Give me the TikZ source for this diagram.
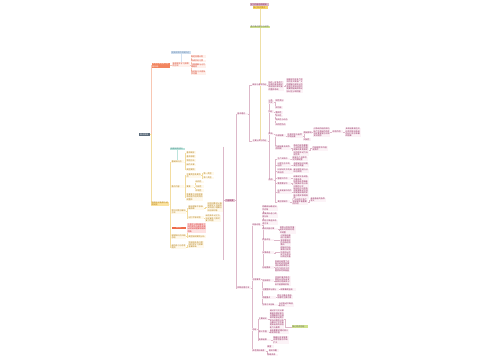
\documentclass[tikz,border=0pt]{standalone}
\usepackage{fontspec}
\newfontfamily\cjk{Noto Sans CJK SC}
\usetikzlibrary{backgrounds}
\XeTeXlinebreaklocale "zh"
\XeTeXlinebreakskip=0pt plus 0.3pt
\definecolor{rtext}{HTML}{8E2157}
\definecolor{rline}{HTML}{DDB8C9}
\definecolor{rfill}{HTML}{FCF3F7}
\definecolor{ytext}{HTML}{B07A10}
\definecolor{yline}{HTML}{F3DDA0}
\definecolor{yfill}{HTML}{FFF9EC}
\definecolor{otext}{HTML}{D2361E}
\definecolor{oline}{HTML}{F8C7B3}
\definecolor{ofill}{HTML}{FFF1EC}
\definecolor{rootc}{HTML}{5A6A7A}
\definecolor{salmon}{HTML}{F2855F}
\definecolor{ymain}{HTML}{FBE3A0}
\definecolor{bluec}{HTML}{D3E2F2}
\definecolor{bluet}{HTML}{6585A8}
\definecolor{tealc}{HTML}{BCE4DD}
\definecolor{tealt}{HTML}{3D8C82}
\definecolor{barcol}{HTML}{EE6B4B}
\definecolor{bartext}{HTML}{FDE0D8}
\definecolor{pinkbox}{HTML}{FDE1E1}
\definecolor{pinkt}{HTML}{D42222}
\definecolor{tpink}{HTML}{D9B6C7}
\definecolor{tyellow}{HTML}{F6D56A}
\definecolor{tgreen}{HTML}{CFE18C}
\definecolor{pfill}{HTML}{E7C8D6}
\definecolor{tline}{HTML}{EEDFA6}
\tikzset{
 base/.style={anchor=west, inner sep=0.35pt, align=left, font=\cjk\fontsize{2}{2.3}\selectfont},
 rn/.style={base, text=rtext, fill=rfill},
 yn/.style={base, text=ytext, fill=yfill},
 on/.style={base, text=otext, fill=ofill},
 rl/.style={draw=rline, line width=0.4pt},
 yl/.style={draw=yline, line width=0.4pt},
 ol/.style={draw=oline, line width=0.4pt},
 tl/.style={draw=tline, line width=0.5pt},
}
\newcommand\nd[6][rn]{\node[#1,text width=#5pt] (#2) at (#3,#4) {#6};}
\newcommand\cn[3][rl]{\draw[#1] (#2.east) -- ++(0.9pt,0) |- (#3.west);}
\begin{document}
\begin{tikzpicture}[x=1pt,y=-1pt]
\begin{scope}[on background layer]
\fill[white] (0,0) rectangle (500,360);
\end{scope}
\useasboundingbox (0,0) rectangle (500,360);
% ---------- top ----------
\nd[rn,fill=tpink]{t1}{250}{4.3}{18}{学习内容总体框架}
\nd[yn,fill=tyellow]{t2}{252.7}{7.7}{14}{核心知识要点}
\nd[rn,fill=tgreen,text=black!60]{t3}{250}{27.2}{19}{重点难点提示与说明}
% ---------- root ----------
\node[base, fill=rootc, text=white, align=center, text width=10.3pt, inner sep=0.5pt] (root) at (138.5,134.5) {知识体系};
% ---------- left orange ----------
\nd[on,fill=salmon,text=white]{O}{151.7}{65.2}{17}{学习方法与技巧总结归纳}
\nd[on]{O1}{172}{64.7}{17}{有效提升学习效率的方法}
\nd[base,fill=bluec,text=bluet]{Bc}{171}{52.5}{19}{提高效率的关键所在}
\nd[on]{O1a}{190.5}{56.5}{15}{制定合理计划}
\nd[on]{O1b}{190.5}{61}{15}{养成良好习惯}
\nd[on]{O1c}{190.5}{66}{15}{注重理解与记忆相结合}
\nd[on]{O1d}{190.5}{73}{15}{及时复习巩固所学内容}
% ---------- left yellow ----------
\nd[yn,fill=ymain]{Y}{151}{204}{17.5}{相关知识拓展与延伸阅读}
\nd[base,fill=tealc,text=tealt]{Tc}{170}{149}{14}{拓展阅读材料}
\nd[yn]{Y1}{171}{161.7}{12.5}{基础知识点}
\nd[yn]{Y1a}{186}{152.7}{9}{基本概念}
\nd[yn]{Y1b}{186}{156.7}{9}{基本原理}
\nd[yn]{Y1c}{186}{160.7}{9}{常用方法}
\nd[yn]{Y1d}{186}{165}{9}{操作步骤}
\nd[yn]{Y1e}{186}{169.3}{9}{典型案例}
\nd[yn]{Y2}{171}{186.7}{12.5}{重点内容}
\nd[yn]{Y2a}{186}{175.5}{14}{主要类型及其特点}
\nd[yn]{Y2a1}{203}{173.3}{10}{第一类型}
\nd[yn]{Y2a2}{203}{178}{10}{第二类型}
\nd[yn]{Y2b}{186}{186.7}{7}{要素}
\nd[yn]{Y2b1}{195}{182}{8}{结构性}
\nd[yn]{Y2b2}{195}{186.7}{8}{功能性}
\nd[yn]{Y2b3}{195}{190.7}{8}{环境性}
\nd[yn]{Y2c}{186}{197}{16}{各要素之间相互联系相互作用共同构成整体}
\nd[yn]{Y3}{171}{211.6}{14}{常见问题与解决方法}
\nd[yn]{Y3a}{188}{208}{15}{概念理解不够准确清晰}
\nd[yn]{Y3a1}{207}{207}{15}{应回归教材认真阅读定义并结合实例进行理解分析加深印象}
\nd[yn]{Y3b}{188}{217.7}{15}{记忆不够牢固}
\nd[yn]{Y3b1}{205}{218.3}{15}{采用多种记忆方法反复练习及时复习巩固}
\fill[barcol] (172,227) rectangle (185.5,228.5);
\node[anchor=center, inner sep=0pt, text=bartext, font=\cjk\fontsize{1.1}{1.2}\selectfont] (Rb) at (178.75,227.75) {易错点提示};
\nd[base,fill=pinkbox,text=pinkt]{Pk}{187}{228}{18}{注意区分相似概念之间的异同点避免混淆出现错误理解和错误判断}
\nd[yn]{Y4}{171}{236.5}{14}{易错知识点归纳总结}
\nd[yn]{Y4a}{188}{236.7}{17}{典型错误案例分析}
\nd[yn]{Y5}{171}{247}{14}{课后练习与思考题目}
\nd[yn]{Y5a}{188}{244.8}{15}{完成相关练习题目检验学习效果查漏补缺}
% ---------- summary + right ----------
\coordinate (s1) at (223.3,146.7);
\coordinate (s2) at (223.3,260);
\nd[rn,fill=pfill]{P}{225}{200.5}{9}{内容概要}
\nd{R1}{236.7}{114}{10}{基本理论}
\nd{R2}{236.7}{287.7}{13}{实践应用方法}
\nd{R1a}{252}{85}{14}{概念与基本特征}
\nd{R1a1}{268}{85.8}{15}{指在一定条件下形成的具有相对稳定结构和功能的整体系统}
\nd{R1a1a}{286}{85.5}{16}{该概念包含多个层次的含义既有广义的理解也有狭义的界定在实际应用中需要根据具体情况加以区分和把握}
\nd{R1b}{252}{141}{15}{主要分类与特征}
\nd{A}{268}{102}{5}{分类方式}
\nd{A1}{275}{100.7}{8}{按性质分}
\nd{A2}{275}{107.7}{7}{按功能}
\nd{B}{268}{111.7}{5}{特征}
\nd{B1}{275}{112.3}{7}{整体性}
\nd{B2}{275}{116}{7}{层次性}
\nd{B3}{275}{120}{12}{相关性与动态}
\nd{B4}{275}{124.3}{10}{目的性特点}
\nd{C}{268}{134}{5}{影响}
\nd{C1}{275}{135.7}{10}{外部因素}
\nd{C1a}{287}{135.7}{15}{社会环境与自然环境因素}
\nd{C1a1}{303}{132.3}{8}{直接影响}
\nd{C1a1a}{313}{132.5}{16}{对系统的结构和功能产生直接作用并决定其发展方向和变化趋势}
\nd{C1a1a1}{332}{131.7}{10}{综合作用}
\nd{C1a1a1a}{345}{132.5}{15}{多种因素相互交织共同影响系统的运行状态和最终结果}
\nd{C1a2}{303}{139.5}{7}{间接性}
\nd{C2}{275}{148}{15}{内部因素及其作用机制}
\nd{C2a}{293}{150}{15}{系统内部各要素之间的相互作用是推动其发展变化的根本动力决定性质}
\nd{C2a1}{312}{148.5}{15}{内因是根本外因是条件}
\nd{D}{268}{180}{5}{应用}
\nd{D1}{277}{159}{12}{生产实践中}
\nd{D1a}{292}{159}{15}{提高生产效率优化资源配置}
\nd{D2}{277}{165}{13}{日常生活中的运用}
\nd{D2a}{293}{165}{15}{合理安排时间提高生活质量}
\nd{D3}{277}{171.3}{15}{科学研究中的具体应用}
\nd{D3a}{293}{171}{15}{建立模型进行分析与预测}
\nd{D4}{277}{178.3}{13}{管理工作中}
\nd{D4a}{293}{178.3}{15}{统筹规划协调各方面关系}
\nd{D5}{277}{183.3}{13}{教育教学中}
\nd{D5a}{293}{184.2}{15}{培养系统思维能力提高综合分析问题的水平}
\nd{D6}{277}{192}{14}{社会发展中的作用}
\nd{D6a}{293}{193}{15}{促进经济社会协调发展推动可持续发展战略的实施与落实取得成效}
\nd{D7}{277}{201.7}{12}{其他领域中}
\nd{D7a}{292}{201.7}{15}{广泛应用于各个领域发挥着重要的作用}
\nd{D7a1}{310}{200}{15}{具有普遍的指导意义}
\nd{E}{251.7}{225}{9}{实施过程}
\nd{E1}{261.7}{208.3}{15}{明确目标确定研究对象}
\nd{E2}{261.7}{215.3}{15}{收集资料进行调查分析}
\nd{E3}{261.7}{222.3}{15}{制定方案选择合适方法}
\nd{E4}{261.7}{229}{15}{组织实施方案}
\nd{E4a}{279.3}{230}{15.5}{按照计划有序推进及时发现问题并调整}
\nd{E5}{261.7}{240}{11.5}{检查评估}
\nd{E5a}{280}{240.5}{10}{对实施结果进行全面检查和客观评估总结经验教训}
\nd{E6}{261.7}{252.7}{11.5}{反馈改进}
\nd{E6a}{280}{252.5}{10}{根据评估结果及时反馈信息找出不足之处并加以改进完善}
\nd{E7}{261.7}{267.3}{11.5}{总结提高}
\nd{E7a}{274.5}{266}{15}{系统总结整个过程中的经验和做法形成规律性认识为今后的工作提供参考和借鉴}
\nd{G}{251.7}{279.3}{8.3}{注意事项}
\nd{G1}{261.7}{280.7}{11.5}{坚持原则}
\nd{G1a}{274.5}{281}{15.5}{坚持实事求是的原则从实际出发具体问题具体分析不能脱离实际}
\nd{G2}{261.7}{289.3}{16.5}{注重整体与部分}
\nd{G2a}{280}{289.3}{15}{统筹兼顾全局}
\nd{G3}{261.7}{297.3}{13}{把握重点}
\nd{G3a}{276.7}{297}{15}{抓住主要矛盾和矛盾的主要方面}
\nd{G4}{261.7}{305}{15}{注意方法创新}
\nd{G4a}{278.3}{305}{15}{与时俱进不断创新方法}
\nd{F}{251.7}{329.3}{4.3}{总结}
\nd{F1}{258.3}{319}{9}{主要结论}
\nd{F1a}{269.3}{319.2}{14}{通过学习可以掌握基本理论和方法理解其内在规律并能够运用于实际问题的分析与解决之中不断提高自身的综合能力与素质}
\nd[base,fill=tgreen,text=black!60]{F1b}{291.7}{326.7}{15}{核心观点总结}
\nd{F2}{258.3}{331.7}{10}{意义价值}
\nd{F2a}{269.3}{331.7}{19}{具有重要的理论意义和实践价值}
\nd{F3}{258.3}{340}{11.5}{发展前景}
\nd{F3a}{272.7}{340}{15.5}{随着社会发展其应用范围将不断扩大}
\nd{Fx}{266.7}{346.7}{6.5}{展望}
\nd{H}{251.7}{350.7}{13}{参考资料来源}
\nd{H1}{268.3}{350.7}{10}{相关书籍}
\nd{H2}{266.7}{355}{10}{网络资源}
% ---------- connectors ----------
\begin{scope}[on background layer]
\draw[tl] (t2.south) -- (t2.south |- R1b.north);
\draw[ol] (root.east) -- ++(0.9pt,0) |- (O.west);
\draw[yl] (root.east) -- ++(0.9pt,0) |- (Y.west);
\cn[ol]{O}{O1}
\draw[draw=bluec, line width=0.5pt] (Bc.south) -- (Bc.south |- O1.north);
\foreach \c in {O1a,O1b,O1c,O1d} {\cn[ol]{O1}{\c}}
\foreach \c in {Y1,Y2,Y3,Y4,Y5} {\cn[yl]{Y}{\c}}
\draw[draw=tealc, line width=0.5pt] (Tc.south) -- (Tc.south |- Y1.north);
\foreach \c in {Y1a,Y1b,Y1c,Y1d,Y1e} {\cn[yl]{Y1}{\c}}
\foreach \c in {Y2a,Y2b,Y2c} {\cn[yl]{Y2}{\c}}
\foreach \c in {Y2a1,Y2a2} {\cn[yl]{Y2a}{\c}}
\foreach \c in {Y2b1,Y2b2,Y2b3} {\cn[yl]{Y2b}{\c}}
\foreach \c in {Y3a,Y3b} {\cn[yl]{Y3}{\c}}
\cn[yl]{Y3a}{Y3a1}
\cn[yl]{Y3b}{Y3b1}
\foreach \c in {Pk,Y4a} {\cn[yl]{Y4}{\c}}
\cn[yl]{Y5}{Y5a}
\draw[rl] (s1) -- (s2);
\draw[rl] (P.west) -- (P.west -| s1);
\foreach \c in {R1,R2} {\cn{P}{\c}}
\foreach \c in {R1a,R1b} {\cn{R1}{\c}}
\cn{R1a}{R1a1}
\cn{R1a1}{R1a1a}
\foreach \c in {A,B,C,D} {\cn{R1b}{\c}}
\foreach \c in {A1,A2} {\cn{A}{\c}}
\foreach \c in {B1,B2,B3,B4} {\cn{B}{\c}}
\foreach \c in {C1,C2} {\cn{C}{\c}}
\cn{C1}{C1a}
\foreach \c in {C1a1,C1a2} {\cn{C1a}{\c}}
\cn{C1a1}{C1a1a}
\cn{C1a1a}{C1a1a1}
\cn{C1a1a1}{C1a1a1a}
\cn{C2}{C2a}
\cn{C2a}{C2a1}
\foreach \c in {D1,D2,D3,D4,D5,D6,D7} {\cn{D}{\c}}
\cn{D1}{D1a}\cn{D2}{D2a}\cn{D3}{D3a}\cn{D4}{D4a}\cn{D5}{D5a}\cn{D6}{D6a}\cn{D7}{D7a}
\cn{D7a}{D7a1}
\foreach \c in {E,G,F,H} {\cn{R2}{\c}}
\foreach \c in {E1,E2,E3,E4,E5,E6,E7} {\cn{E}{\c}}
\cn{E4}{E4a}\cn{E5}{E5a}\cn{E6}{E6a}\cn{E7}{E7a}
\foreach \c in {G1,G2,G3,G4} {\cn{G}{\c}}
\cn{G1}{G1a}\cn{G2}{G2a}\cn{G3}{G3a}\cn{G4}{G4a}
\foreach \c in {F1,F2,F3} {\cn{F}{\c}}
\cn{F1}{F1a}\cn{F1a}{F1b}\cn{F2}{F2a}\cn{F3}{F3a}
\foreach \c in {H1,H2} {\cn{H}{\c}}
\end{scope}
\end{tikzpicture}
\end{document}
